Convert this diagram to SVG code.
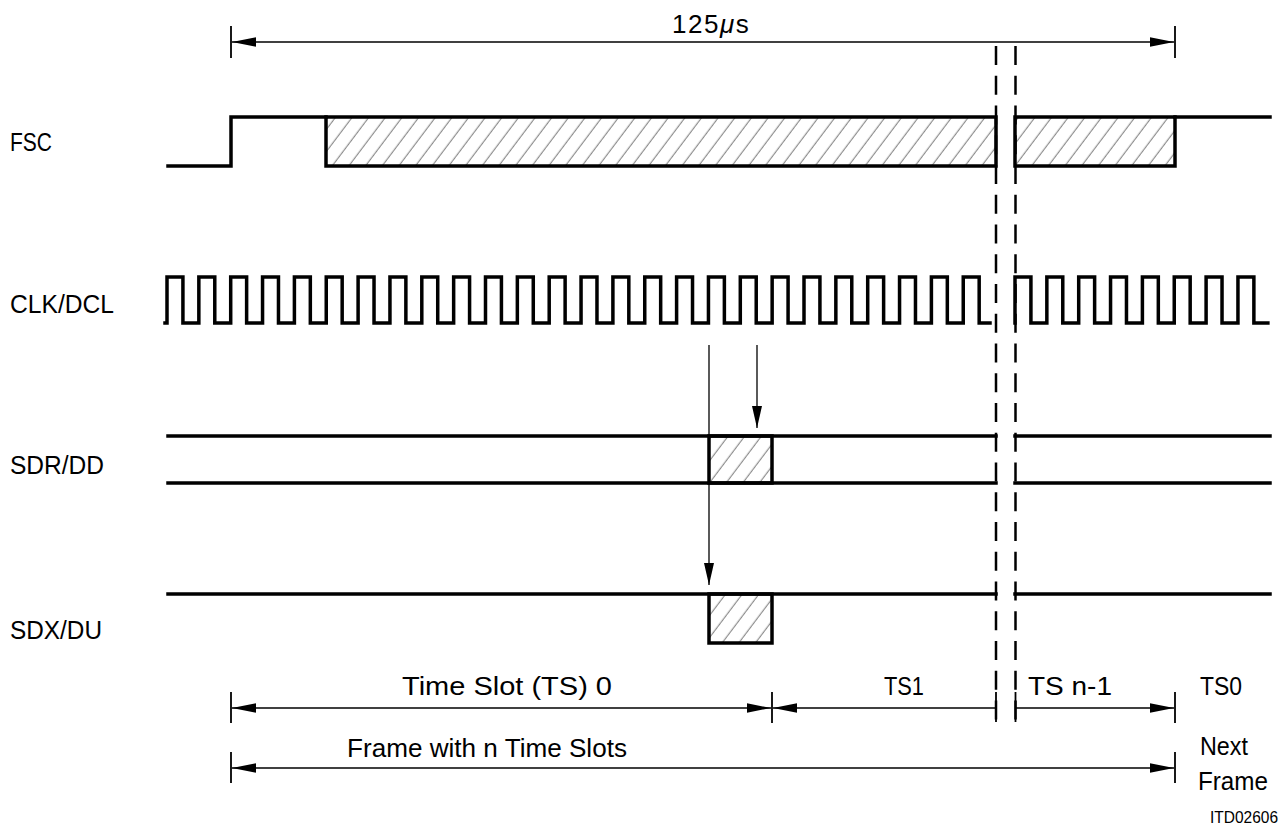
<svg xmlns="http://www.w3.org/2000/svg" width="1287" height="828" viewBox="0 0 1287 828">
<style>
.sig{fill:none;stroke:#000;stroke-width:3.5;stroke-linejoin:miter;stroke-linecap:square}
.box{fill:url(#hatch);stroke:#000;stroke-width:3.5}
.dim{fill:none;stroke:#000;stroke-width:1.6}
.tick{stroke:#000;stroke-width:1.8}
.dash{stroke:#000;stroke-width:2.5;stroke-dasharray:19 10.75}
.thin{fill:none;stroke:#000;stroke-width:1.3}
text{font-family:"Liberation Sans",Arial,sans-serif;font-size:26px;fill:#000}
.small{font-size:17px}
</style>
<defs>
<pattern id="hatch" patternUnits="userSpaceOnUse" width="13.3" height="13.3" patternTransform="rotate(37)">
<line x1="6" y1="0" x2="6" y2="13.3" stroke="#777" stroke-width="1"/>
</pattern>
<marker id="ah" markerUnits="userSpaceOnUse" markerWidth="26" markerHeight="12" viewBox="0 -6 26 12" refX="24" refY="0" orient="auto-start-reverse"><path d="M0,-4.7 L24,0 L0,4.7 z" fill="#000"/></marker>
<marker id="vh" markerUnits="userSpaceOnUse" markerWidth="24" markerHeight="12" viewBox="0 -6 24 12" refX="22" refY="0" orient="auto"><path d="M0,-5 L22,0 L0,5 z" fill="#000"/></marker>
</defs>

<g id="dim-125us">
<line class="tick" x1="231" y1="26" x2="231" y2="58"/>
<line class="tick" x1="1175" y1="26" x2="1175" y2="58"/>
<line class="dim" x1="232" y1="42" x2="1174" y2="42" marker-start="url(#ah)" marker-end="url(#ah)"/>
<text x="672" y="33" letter-spacing="1.5">125<tspan font-style="italic">μ</tspan>s</text>
</g>

<g id="fsc">
<text x="10" y="151" textLength="42" lengthAdjust="spacingAndGlyphs">FSC</text>
<rect class="box" x="326" y="117" width="670" height="49"/>
<rect class="box" x="1015" y="117" width="160" height="49"/>
<path class="sig" d="M168,166 H231 V117 H326"/>
<path class="sig" d="M1175,117 H1270"/>
</g>

<g id="clk">
<text x="10" y="313" textLength="104" lengthAdjust="spacingAndGlyphs">CLK/DCL</text>
<path class="sig" d="M165,323 H167 v-46h15.925v46h15.925v-46h15.925v46h15.925v-46h15.925v46h15.925v-46h15.925v46h15.925v-46h15.925v46h15.925v-46h15.925v46h15.925v-46h15.925v46h15.925v-46h15.925v46h15.925v-46h15.925v46h15.925v-46h15.925v46h15.925v-46h15.925v46h15.925v-46h15.925v46h15.925v-46h15.925v46h15.925v-46h15.925v46h15.925v-46h15.925v46h15.925v-46h15.925v46h15.925v-46h15.925v46h15.925v-46h15.925v46h15.925v-46h15.925v46h15.925v-46h15.925v46h15.925v-46h15.925v46h15.925v-46h15.925v46h15.925v-46h15.925v46h15.925v-46h15.925v46h15.925v-46h15.925v46h15.925v-46h15.925v46 H990"/>
<path class="sig" d="M1015,323 v-46h15.925v46h15.925v-46h15.925v46h15.925v-46h15.925v46h15.925v-46h15.925v46h15.925v-46h15.925v46h15.925v-46h15.925v46h15.925v-46h15.925v46h15.925v-46h15.925v46h14"/>
</g>

<g id="sdr">
<text x="10" y="474" textLength="94" lengthAdjust="spacingAndGlyphs">SDR/DD</text>
<rect class="box" x="709" y="436" width="63" height="47"/>
<path class="sig" d="M168,436 H996 M168,483 H996 M1015,436 H1270 M1015,483 H1270"/>
</g>

<g id="sdx">
<text x="10" y="639" textLength="92" lengthAdjust="spacingAndGlyphs">SDX/DU</text>
<rect class="box" x="709" y="594" width="63" height="49"/>
<path class="sig" d="M168,594 H996 M1015,594 H1270"/>
</g>

<g id="connectors">
<line class="dash" x1="996" y1="46" x2="996" y2="722"/>
<line class="dash" x1="1015.5" y1="46" x2="1015.5" y2="722"/>
<line class="thin" x1="709" y1="345" x2="709" y2="585" marker-end="url(#vh)"/>
<line class="thin" x1="757" y1="345" x2="757" y2="428" marker-end="url(#vh)"/>
</g>

<g id="dim-ts">
<line class="tick" x1="231" y1="692" x2="231" y2="723"/>
<line class="tick" x1="772" y1="692" x2="772" y2="723"/>
<line class="tick" x1="996" y1="692" x2="996" y2="722"/>
<line class="tick" x1="1015.5" y1="692" x2="1015.5" y2="722"/>
<line class="tick" x1="1175" y1="692" x2="1175" y2="723"/>
<line class="dim" x1="232" y1="708" x2="771" y2="708" marker-start="url(#ah)" marker-end="url(#ah)"/>
<line class="dim" x1="773" y1="708" x2="996" y2="708" marker-start="url(#ah)"/>
<line class="dim" x1="1016" y1="708" x2="1174" y2="708" marker-end="url(#ah)"/>
<text x="402" y="695" textLength="210" lengthAdjust="spacingAndGlyphs">Time Slot (TS) 0</text>
<text x="884" y="695" textLength="40" lengthAdjust="spacingAndGlyphs">TS1</text>
<text x="1028" y="695" textLength="84" lengthAdjust="spacingAndGlyphs">TS n-1</text>
<text x="1200" y="695" textLength="42" lengthAdjust="spacingAndGlyphs">TS0</text>
</g>

<g id="dim-frame">
<line class="tick" x1="231" y1="752" x2="231" y2="783"/>
<line class="tick" x1="1175" y1="752" x2="1175" y2="783"/>
<line class="dim" x1="232" y1="768" x2="1174" y2="768" marker-start="url(#ah)" marker-end="url(#ah)"/>
<text x="347" y="757" textLength="280" lengthAdjust="spacingAndGlyphs">Frame with n Time Slots</text>
<text x="1200" y="755" textLength="48" lengthAdjust="spacingAndGlyphs">Next</text>
<text x="1198" y="790" textLength="70" lengthAdjust="spacingAndGlyphs">Frame</text>
</g>

<text class="small" x="1210" y="823" textLength="68" lengthAdjust="spacingAndGlyphs">ITD02606</text>
</svg>
